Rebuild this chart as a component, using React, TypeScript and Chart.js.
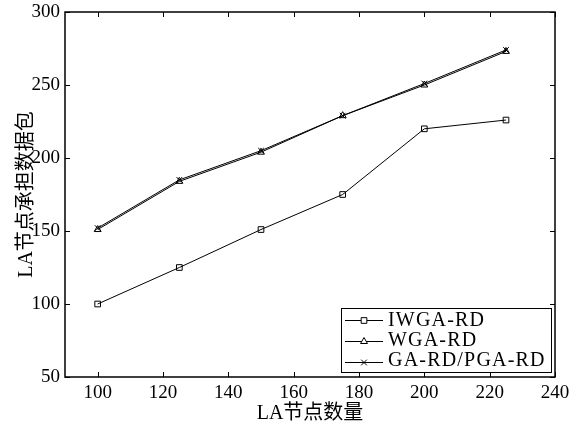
import React, { useEffect, useRef } from "react";
import { Chart, registerables } from "chart.js";
import { drawPoint } from "chart.js/helpers";
Chart.register(...registerables);

const xValues = [100, 125, 150, 175, 200, 225];
const iwga = [100, 125, 151, 175, 220, 226];
const wga = [151, 184, 204, 229, 250, 273];
const gapga = [152, 185, 205, 229, 251, 274];
const seriesNames = ["IWGA-RD", "WGA-RD", "GA-RD/PGA-RD"];
const xTicks = [100, 120, 140, 160, 180, 200, 220, 240];
const yTicks = [50, 100, 150, 200, 250, 300];
const xTitle = "LA节点数量";
const yTitle = "LA节点承担数据包";

const FONT = "'Liberation Serif', 'Noto Sans CJK SC', serif";

const framePlugin = {
  id: "frame",
  afterDatasetsDraw(chart: any) {
    const { ctx, chartArea: a, scales } = chart;
    const xs = scales.x, ys = scales.y;
    ctx.save();
    ctx.strokeStyle = "#000";
    ctx.lineWidth = 1.5;
    ctx.strokeRect(a.left, a.top, a.right - a.left, a.bottom - a.top);
    ctx.lineWidth = 1;
    const L = 5;
    ctx.beginPath();
    xTicks.forEach((t) => {
      const px = Math.round(xs.getPixelForValue(t)) + 0.5;
      ctx.moveTo(px, a.bottom);
      ctx.lineTo(px, a.bottom - L);
      ctx.moveTo(px, a.top);
      ctx.lineTo(px, a.top + L);
    });
    yTicks.forEach((t) => {
      const py = Math.round(ys.getPixelForValue(t)) + 0.5;
      ctx.moveTo(a.left, py);
      ctx.lineTo(a.left + L, py);
      ctx.moveTo(a.right, py);
      ctx.lineTo(a.right - L, py);
    });
    ctx.stroke();

    // legend
    const bx = 341, by = 308, bw = 210, bh = 64;
    ctx.fillStyle = "#fff";
    ctx.fillRect(bx, by, bw, bh);
    ctx.lineWidth = 1;
    ctx.strokeStyle = "#000";
    ctx.strokeRect(bx + 0.5, by + 0.5, bw, bh);
    const rows = [320, 341, 362];
    const baselines = [326, 346, 366];
    const styles = ["rect", "triangle", "crossRot"];
    ctx.font = "20px " + FONT;
    try { (ctx as any).letterSpacing = "1.2px"; } catch (e) {}
    ctx.textBaseline = "alphabetic";
    ctx.textAlign = "left";
    rows.forEach((ry, i) => {
      ctx.beginPath();
      ctx.moveTo(345, ry + 0.5);
      ctx.lineTo(383, ry + 0.5);
      ctx.stroke();
      ctx.fillStyle = "#fff";
      drawPoint(ctx, { pointStyle: styles[i], radius: 4, borderWidth: 1 } as any, 364, ry + 0.5);
      ctx.fillStyle = "#000";
      ctx.fillText(seriesNames[i], 388, baselines[i]);
    });
    ctx.restore();
  },
};

function mk(label: string, data: number[], style: string) {
  return {
    label,
    data: xValues.map((x, i) => ({ x, y: data[i] })),
    borderColor: "#000",
    backgroundColor: "rgba(0,0,0,0)",
    borderWidth: 1,
    pointStyle: style,
    pointRadius: 4,
    pointBorderWidth: 1,
    pointBorderColor: "#000",
    showLine: true,
    tension: 0,
  };
}

export default function App() {
  const ref = useRef<HTMLCanvasElement>(null);
  useEffect(() => {
    const chart = new Chart(ref.current!, {
      type: "scatter",
      data: {
        datasets: [
          mk(seriesNames[0], iwga, "rect"),
          mk(seriesNames[1], wga, "triangle"),
          mk(seriesNames[2], gapga, "crossRot"),
        ] as any,
      },
      options: {
        responsive: false,
        animation: false,
        layout: { padding: { top: 12, right: 16, left: 0, bottom: 0 } },
        plugins: { legend: { display: false }, tooltip: { enabled: false } },
        scales: {
          x: {
            type: "linear",
            min: 90,
            max: 240,
            afterBuildTicks: (s: any) => { s.ticks = xTicks.map((v) => ({ value: v })); },
            afterFit: (s: any) => { s.height = 51; s.paddingLeft = 0; s.paddingRight = 0; },
            grid: { display: false, drawTicks: false },
            border: { display: false },
            ticks: { color: "#000", font: { family: FONT, size: 19 }, padding: 5 },
            title: { display: true, text: xTitle, color: "#000", font: { family: FONT, size: 20 }, padding: { top: 0, bottom: 2 } },
          },
          y: {
            type: "linear",
            min: 50,
            max: 300,
            afterBuildTicks: (s: any) => { s.ticks = yTicks.map((v) => ({ value: v })); },
            afterFit: (s: any) => { s.width = 65; s.paddingTop = 0; s.paddingBottom = 0; },
            grid: { display: false, drawTicks: false },
            border: { display: false },
            ticks: { color: "#000", font: { family: FONT, size: 19 }, padding: 5 },
            title: { display: true, text: yTitle, color: "#000", font: { family: FONT, size: 20 }, padding: { top: 15, bottom: 0 } },
          },
        },
      },
      plugins: [framePlugin],
    });
    return () => chart.destroy();
  }, []);
  return (
    <div style={{ position: "absolute", left: 0, top: 0, width: 571, height: 428, background: "#fff" }}>
      <canvas ref={ref} width={571} height={428} />
    </div>
  );
}
